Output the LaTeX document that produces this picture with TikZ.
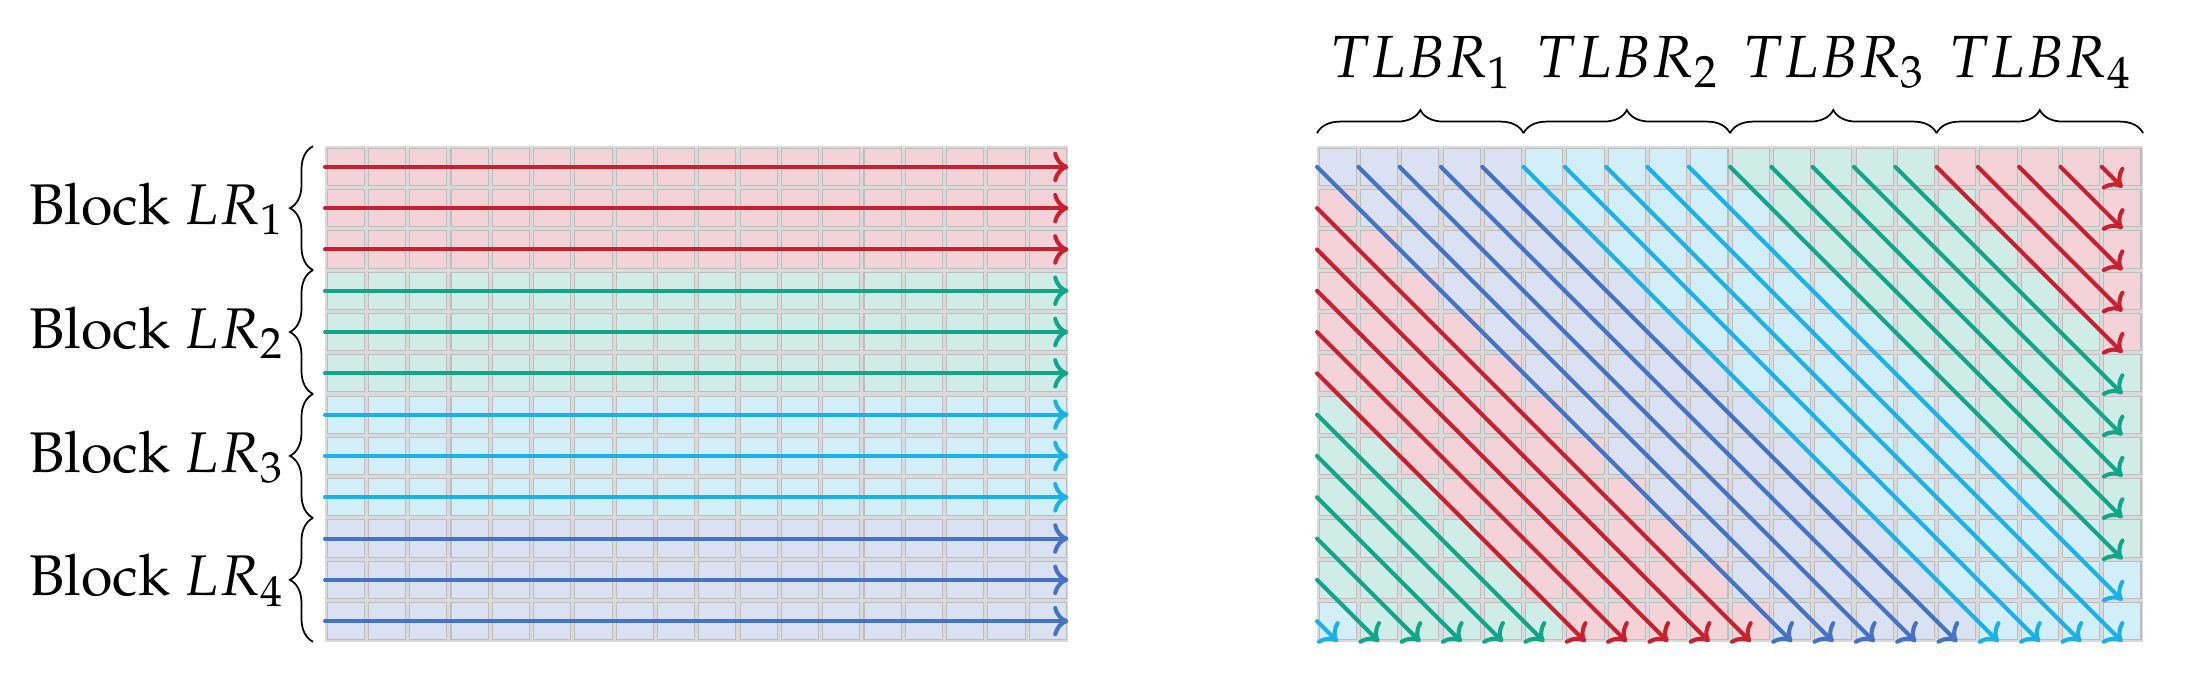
\documentclass[tikz,border=0pt]{standalone}
\usepackage[T1]{fontenc}
\usepackage{mathpazo}
\usetikzlibrary{arrows.meta,decorations.pathreplacing,calc}
\definecolor{fill0}{HTML}{D9E1F2}
\definecolor{fill1}{HTML}{D2EEF9}
\definecolor{fill2}{HTML}{CFECE6}
\definecolor{fill3}{HTML}{F3D3D7}
\definecolor{line0}{HTML}{4472C4}
\definecolor{line1}{HTML}{1CB0E9}
\definecolor{line2}{HTML}{11A68A}
\definecolor{line3}{HTML}{C7202F}
\definecolor{gridgap}{HTML}{DADADA}
\definecolor{cellborder}{HTML}{BDBDBD}
\begin{document}
\begin{tikzpicture}[x=1cm,y=1cm,
  cell/.style={draw=cellborder, line width=0.7pt},
  flow/.style={line width=2.8pt, line cap=round,
    -{Computer Modern Rightarrow[length=10.5pt,width=21pt,line cap=round]}},
  bracestyle/.style={decorate, decoration={brace, amplitude=0.56cm}, line width=1.2pt},
  lab/.style={font=\fontsize{41}{49}\selectfont, inner sep=0pt},
  blab/.style={font=\fontsize{39.5}{47}\selectfont, inner sep=0pt}]
\useasboundingbox (0,0) rectangle (52.93,16.42);
% ---------- left grid ----------
\coordinate (L) at (7.87,12.88);
\fill[gridgap] (L) rectangle ++(18,-12);
\foreach \r in {0,...,11}{
  \pgfmathtruncatemacro\k{3-int(\r/3)}
  \foreach \c in {0,...,17}{
    \pgfmathsetmacro\xa{7.87+\c+0.05}
    \pgfmathsetmacro\ya{12.88-\r-0.05}
    \filldraw[cell, fill=fill\k] (\xa,\ya) rectangle (\xa+0.9,\ya-0.9);
  }
}
\foreach \r in {0,...,11}{
  \pgfmathtruncatemacro\k{3-int(\r/3)}
  \pgfmathsetmacro\yy{12.88-\r-0.5}
  \coordinate (la\r) at (7.87,\yy);
  \coordinate (lb\r) at (25.87,\yy);
  \draw[flow, draw=line\k] (la\r) -- (lb\r);
}
\foreach \i in {1,...,4}{
  \pgfmathsetmacro\yt{12.88-3*(\i-1)}
  \pgfmathsetmacro\yb{\yt-3}
  \pgfmathsetmacro\ybase{10.99-3*(\i-1)}
  \coordinate (bb\i) at (7.58,\yb);
  \coordinate (bt\i) at (7.58,\yt);
  \draw[bracestyle] (bb\i) -- (bt\i);
  \node[blab, anchor=base east] (blk\i) at (6.85,\ybase) {Block $LR_{\i}$};
}
% ---------- right grid ----------
\coordinate (R) at (31.89,12.88);
\fill[gridgap] (R) rectangle ++(20,-12);
\foreach \r in {0,...,11}{
  \foreach \c in {0,...,19}{
    \pgfmathtruncatemacro\k{mod(\c-\r+20,20)/5}
    \pgfmathsetmacro\xa{31.89+\c+0.05}
    \pgfmathsetmacro\ya{12.88-\r-0.05}
    \filldraw[cell, fill=fill\k] (\xa,\ya) rectangle (\xa+0.9,\ya-0.9);
  }
}
\foreach \d in {-11,...,19}{
  \pgfmathtruncatemacro\cz{max(\d,0)}
  \pgfmathtruncatemacro\rz{max(-\d,0)}
  \pgfmathtruncatemacro\n{min(20-\cz,12-\rz)}
  \pgfmathtruncatemacro\k{mod(\d+20,20)/5}
  \pgfmathsetmacro\xs{31.89+\cz}
  \pgfmathsetmacro\ys{12.88-\rz-0.5}
  \pgfmathsetmacro\xe{\xs+\n-0.5}
  \pgfmathsetmacro\ye{\ys-\n+0.5}
  \coordinate (ds\d) at (\xs,\ys);
  \coordinate (de\d) at (\xe,\ye);
  \draw[flow, draw=line\k] (ds\d) -- (de\d);
}
\foreach \i in {1,...,4}{
  \pgfmathsetmacro\xl{31.89+5*(\i-1)}
  \pgfmathsetmacro\xr{\xl+5}
  \pgfmathsetmacro\xm{\xl+2.5}
  \coordinate (tl\i) at (\xl,13.196);
  \coordinate (tr\i) at (\xr,13.196);
  \draw[bracestyle] (tl\i) -- (tr\i);
  \node[lab, anchor=base] (tlbr\i) at (\xm,14.55) {$TLBR_{\i}$};
}
\end{tikzpicture}
\end{document}
